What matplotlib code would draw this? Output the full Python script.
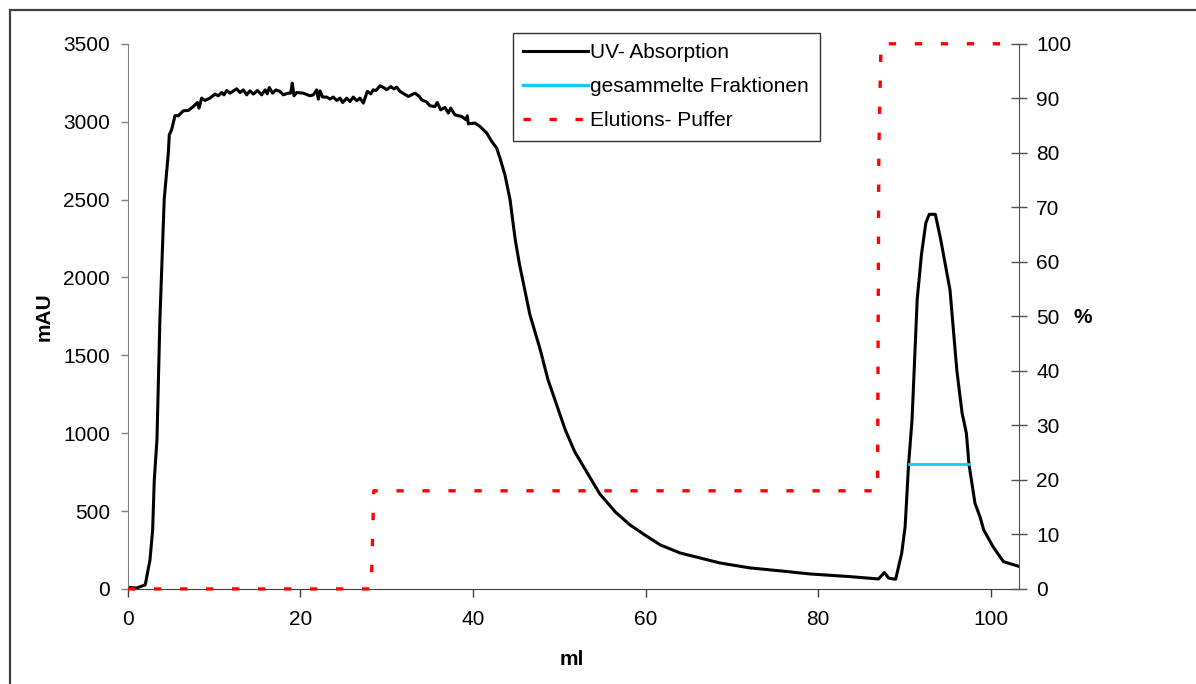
import matplotlib
matplotlib.use("Agg")
import matplotlib.pyplot as plt
from matplotlib.lines import Line2D
from matplotlib.patches import Rectangle

plt.rcParams["font.family"] = ["Liberation Sans", "DejaVu Sans"]

# UV absorption trace (ml, mAU)
uv_ml = [0.0, 1.0, 2.0, 2.55, 2.86, 3.05, 3.36, 3.7, 4.2, 4.68, 4.79, 5.06, 5.45, 5.84,
         6.42, 7.0, 7.57, 8.04, 8.23, 8.54, 8.93, 9.5, 10.09, 10.47, 10.86, 11.13, 11.44,
         11.83, 12.6, 12.99, 13.37, 13.76, 14.14, 14.53, 15.0, 15.5, 15.9, 16.15, 16.38,
         16.77, 17.16, 17.62, 18.0, 18.59, 18.86, 19.05, 19.25, 19.56, 20.33, 21.1, 21.48,
         21.88, 22.07, 22.26, 22.57, 23.04, 23.42, 23.8, 24.2, 24.58, 24.89, 25.36, 25.74,
         26.12, 26.52, 26.9, 27.28, 27.75, 28.14, 28.44, 28.75, 29.22, 29.6, 29.99, 30.46,
         30.84, 31.15, 31.54, 32.5, 33.28, 33.78, 34.05, 34.63, 35.0, 35.6, 35.86, 36.25,
         36.75, 37.14, 37.41, 37.9, 38.69, 39.19, 39.34, 39.46, 40.23, 40.81, 41.59, 42.17,
         42.75, 43.13, 43.7, 44.3, 44.9, 45.4, 46.0, 46.6, 47.8, 48.7, 49.5, 50.7, 51.8,
         53.6, 54.7, 56.5, 58.2, 59.9, 61.7, 64.0, 66.3, 68.6, 72.1, 75.6, 79.1, 82.6,
         83.7, 87.0, 87.7, 88.2, 89.0, 89.7, 90.1, 90.5, 90.9, 91.5, 92.0, 92.5, 92.9,
         93.6, 94.2, 95.3, 96.1, 96.7, 97.2, 97.5, 98.2, 98.8, 99.2, 100.3, 101.5, 103.4]
uv_mau = [10, 6, 26, 186, 379, 700, 957, 1727, 2500, 2800, 2916, 2948, 3038, 3038,
          3070, 3072, 3097, 3123, 3087, 3151, 3136, 3151, 3177, 3166, 3187, 3172, 3200,
          3183, 3211, 3187, 3204, 3172, 3198, 3177, 3200, 3172, 3204, 3179, 3219,
          3183, 3204, 3194, 3172, 3183, 3183, 3247, 3166, 3187, 3183, 3166, 3172,
          3204, 3145, 3198, 3158, 3158, 3145, 3158, 3136, 3151, 3123, 3151, 3129,
          3158, 3134, 3151, 3119, 3194, 3179, 3204, 3200, 3230, 3220, 3205, 3225,
          3210, 3222, 3194, 3162, 3183, 3162, 3140, 3126, 3102, 3097, 3123, 3076,
          3091, 3055, 3087, 3044, 3033, 3012, 3038, 2986, 2991, 2969, 2927, 2873,
          2830, 2766, 2659, 2498, 2241, 2081, 1920, 1760, 1535, 1342, 1214, 1021, 880,
          713, 610, 494, 411, 347, 283, 231, 199, 167, 135, 116, 96, 83,
          79, 64, 105, 69, 62, 229, 400, 800, 1085, 1860, 2150, 2350, 2405,
          2405, 2250, 1920, 1400, 1130, 1000, 800, 550, 460, 380, 270, 175, 143]

# collected fractions (ml range, mAU level)
frac_ml = [90.5, 97.5]
frac_mau = [800, 800]

# elution buffer (ml, %)
buf_ml = [0.0, 28.2, 28.35, 28.5, 86.9, 87.05, 87.3, 103.3]
buf_pct = [0, 0, 9, 18, 18, 80, 100, 100]

fig = plt.figure(figsize=(11.96, 6.84), dpi=100)
ax = fig.add_axes([0.107, 0.139, 0.745, 0.797])
ax2 = ax.twinx()

ax.plot(uv_ml, uv_mau, color="black", lw=2.2, solid_joinstyle="round")
ax.plot(frac_ml, frac_mau, color="#14C8F0", lw=2.0)
ax2.plot(buf_ml, buf_pct, color="#FF0000", lw=2.4, linestyle=(0, (2.2, 5.6)), clip_on=False)

ax.set_xlim(0, 103.3)
ax.set_ylim(0, 3500)
ax2.set_ylim(0, 100)
ax.set_xticks(range(0, 101, 20))
ax.set_yticks(range(0, 3501, 500))
ax2.set_yticks(range(0, 101, 10))

for a in (ax, ax2):
    a.spines["top"].set_visible(False)
    a.patch.set_visible(False)
ax2.spines["left"].set_visible(False)
ax2.spines["bottom"].set_visible(False)
ax.spines["right"].set_visible(False)
ax.spines["left"].set_color("#808080")
ax.spines["bottom"].set_color("#404040")
ax2.spines["right"].set_color("#505050")

ax.tick_params(axis="y", direction="out", length=5, width=1, color="#808080",
               labelsize=15, pad=8)
ax.tick_params(axis="x", direction="out", length=6, width=1, color="#404040",
               labelsize=15, pad=9)
ax2.tick_params(axis="y", direction="inout", length=11, width=1, color="#505050",
                labelsize=15, pad=7)

ax.set_xlabel("ml", fontsize=15, fontweight="bold")
ax.xaxis.set_label_coords(0.498, -0.130)
ax.xaxis.label.set_va("center")
ax.set_ylabel("mAU", fontsize=15, fontweight="bold")
ax.yaxis.set_label_coords(-0.094, 0.50)
ax.yaxis.label.set_va("center")
ax2.set_ylabel("%", fontsize=15, fontweight="bold", rotation=0)
ax2.yaxis.set_label_coords(1.072, 0.497)
ax2.yaxis.label.set_va("center")
ax2.yaxis.label.set_ha("center")

handles = [
    Line2D([], [], color="black", lw=2.2),
    Line2D([], [], color="#14C8F0", lw=2.4),
    Line2D([], [], color="#FF0000", lw=2.4, linestyle=(0, (2.2, 5.6))),
]
labels = ["UV- Absorption", "gesammelte Fraktionen", "Elutions- Puffer"]
leg = ax2.legend(handles, labels, loc="upper left",
                 bbox_to_anchor=(513 / 1196, 1 - 33 / 684), bbox_transform=fig.transFigure,
                 fontsize=15, frameon=True, fancybox=False, shadow=False,
                 handlelength=3.1, handletextpad=0.12, labelspacing=0.72,
                 borderpad=0.5, borderaxespad=0)
leg.get_frame().set_edgecolor("black")
leg.get_frame().set_linewidth(1.0)

fig.patches.append(Rectangle((10 / 1196, -0.1), 2.0, 1.1 - 10 / 684,
                             transform=fig.transFigure, fill=False,
                             edgecolor="#404040", lw=1.6))

fig.savefig("out.png", dpi=100)
